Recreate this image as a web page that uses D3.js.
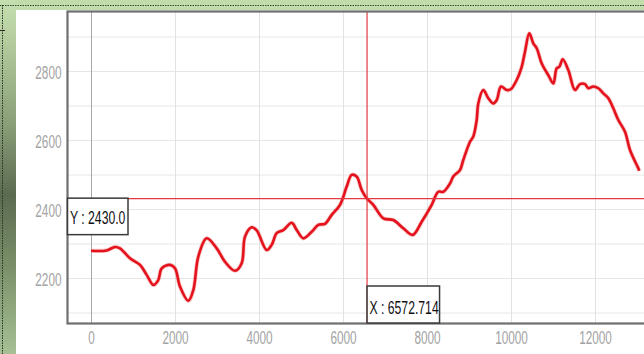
<!DOCTYPE html>
<html><head><meta charset="utf-8">
<script src="https://cdn.jsdelivr.net/npm/d3@7"></script>
<style>html,body{margin:0;padding:0;background:#fff;overflow:hidden}svg{display:block}</style>
</head><body>
<script>
// ---- data ----
const xValues = [0,374,571,690,929,1167,1326,1483,1602,1683,1881,2000,2119,2317,2436,2555,2755,2993,3190,3429,3588,3667,3826,3945,4183,4302,4421,4579,4779,4898,5055,5255,5412,5571,5731,5929,6088,6207,6326,6445,6564,6721,6960,7198,7436,7660,7874,8112,8269,8388,8548,8626,8786,8864,9024,9102,9183,9221,9340,9460,9579,9660,9762,9898,9993,10136,10255,10333,10436,10531,10612,10731,10888,11007,11088,11150,11231,11364,11524,11643,11762,11840,11960,12079,12198,12317,12436,12555,12714,12833,13031,13055];
const yValues = [2279,2280,2290,2286,2257,2238,2209,2180,2194,2228,2238,2228,2175,2134,2165,2262,2315,2286,2247,2221,2243,2320,2347,2338,2281,2296,2330,2339,2360,2339,2315,2334,2354,2357,2383,2412,2465,2499,2494,2455,2431,2412,2373,2368,2344,2325,2363,2412,2450,2450,2474,2494,2513,2542,2595,2610,2658,2706,2745,2721,2706,2716,2755,2745,2747,2774,2812,2856,2909,2880,2866,2822,2788,2764,2808,2812,2834,2803,2745,2762,2762,2750,2755,2750,2735,2721,2692,2658,2624,2571,2518,2511];
const xTicks = [0,2000,4000,6000,8000,10000,12000];
const yTicks = [2200,2400,2600,2800];
const yGrid = [2100,2200,2300,2400,2500,2600,2700,2800,2900];
const crossX = 6572.714;
const crossY = 2430.0;

// ---- layout ----
const W = 644, H = 354;
const pL = 67, pT = 11, pB = 323, pR = 670;

const svg = d3.select('body').append('svg').attr('width', W).attr('height', H);
const defs = svg.append('defs');
const g1 = defs.append('linearGradient').attr('id','leftg').attr('x1',0).attr('y1',0).attr('x2',0).attr('y2',1);
[[0,'#c6dfb0'],[0.12,'#b3cb9d'],[0.35,'#8a9e78'],[0.55,'#5c6b50'],[0.75,'#7a8f69'],[1,'#a6c094']].forEach(s=>g1.append('stop').attr('offset',s[0]).attr('stop-color',s[1]));
defs.append('clipPath').attr('id','clip').append('rect').attr('x',pL).attr('y',pT).attr('width',pR-pL).attr('height',pB-pT);

// background frame
svg.append('rect').attr('width',W).attr('height',H).attr('fill','#c2dcab');
svg.append('rect').attr('x',0).attr('y',0).attr('width',16).attr('height',H).attr('fill','url(#leftg)');
svg.append('rect').attr('x',16).attr('y',10).attr('width',W-16).attr('height',H-10).attr('fill','#ffffff');
svg.append('line').attr('x1',0).attr('x2',W).attr('y1',5.5).attr('y2',5.5).attr('stroke','#3a4a34').attr('stroke-width',1).attr('stroke-dasharray','1.5,1');
svg.append('line').attr('x1',2.5).attr('x2',2.5).attr('y1',5).attr('y2',H).attr('stroke','#2a3426').attr('stroke-width',1).attr('stroke-dasharray','1.5,1');
svg.append('line').attr('x1',0).attr('x2',5).attr('y1',30.5).attr('y2',30.5).attr('stroke','#222').attr('stroke-width',1);

// scales
const x = d3.scaleLinear().domain([0,12000]).range([91,595]);
const y = d3.scaleLinear().domain([2200,2800]).range([278,71]);

// grid
const gy = svg.append('g').attr('transform',`translate(${pL},0)`)
  .call(d3.axisLeft(y).tickValues(yGrid).tickSize(-(pR-pL)).tickFormat(''));
gy.select('.domain').remove();
gy.selectAll('line').attr('stroke','#e6e6e6');
const gx = svg.append('g').attr('transform',`translate(0,${pB})`)
  .call(d3.axisBottom(x).tickValues(xTicks).tickSize(-(pB-pT)).tickFormat(''));
gx.select('.domain').remove();
gx.selectAll('line').attr('stroke',d=>d===0?'#a8a8a8':'#e2e2e2');

// tick labels via axes
const SX = 0.62;
const ay = svg.append('g').attr('transform',`translate(${pL},0)`)
  .call(d3.axisLeft(y).tickValues(yTicks).tickSize(0).tickFormat(d3.format('d')));
ay.select('.domain').remove();
ay.selectAll('text').attr('x',null).attr('dy',null)
  .attr('transform',`translate(-5.5,7.5) scale(${SX},1)`)
  .attr('text-anchor','end').attr('fill','#a3a3a3')
  .style('font-family','Liberation Sans, Arial, sans-serif').style('font-size','19px');
const ax = svg.append('g').attr('transform',`translate(0,${pB})`)
  .call(d3.axisBottom(x).tickValues(xTicks).tickSize(0).tickFormat(d3.format('d')));
ax.select('.domain').remove();
ax.selectAll('text').attr('y',null).attr('dy',null)
  .attr('transform',`translate(0,21) scale(${SX},1)`)
  .attr('text-anchor','middle').attr('fill','#a3a3a3')
  .style('font-family','Liberation Sans, Arial, sans-serif').style('font-size','19px');

// data line
const data = xValues.map((v,i)=>[v,yValues[i]]);
const plot = svg.append('g').attr('clip-path','url(#clip)');
const line = d3.line().x(d=>x(d[0])).y(d=>y(d[1])).curve(d3.curveCatmullRom.alpha(0.5));
plot.append('path').datum(data).attr('d',line).attr('fill','none')
  .attr('stroke','#f08080').attr('stroke-opacity',0.45).attr('stroke-width',4.2).attr('stroke-linejoin','round');
plot.append('path').datum(data).attr('d',line).attr('fill','none')
  .attr('stroke','#e4121c').attr('stroke-width',2.6).attr('stroke-linejoin','round');

// crosshair
const cy = y(crossY), cx = x(crossX);
plot.append('line').attr('x1',pL).attr('x2',pR).attr('y1',cy).attr('y2',cy).attr('stroke','#e23a40').attr('stroke-width',1.4);
plot.append('line').attr('x1',cx).attr('x2',cx).attr('y1',pT).attr('y2',pB).attr('stroke','#e23a40').attr('stroke-width',1.2);

// plot border
svg.append('rect').attr('x',pL+0.5).attr('y',pT+0.5).attr('width',pR-pL).attr('height',pB-pT)
  .attr('fill','none').attr('stroke','#6f6f6f').attr('stroke-width',2.2);

// crosshair labels
function box(x0,y0,w,h,label,tx,ty){
  const g = svg.append('g');
  g.append('rect').attr('x',x0).attr('y',y0).attr('width',w).attr('height',h)
    .attr('fill','#fff').attr('stroke','#3a3a3a').attr('stroke-width',1.5);
  g.append('text').attr('transform',`translate(${tx},${ty}) scale(0.66,1)`)
    .attr('fill','#111').style('font-family','Liberation Sans, Arial, sans-serif').style('font-size','18.5px')
    .text(label);
}
box(pL+0.5, cy-0.5, 60.5, 36.5, 'Y : ' + crossY.toFixed(1), 70, 224);
box(cx, 286, 72.5, 37, 'X : ' + crossX.toFixed(3), 369.5, 313.5);
</script>
</body></html>
